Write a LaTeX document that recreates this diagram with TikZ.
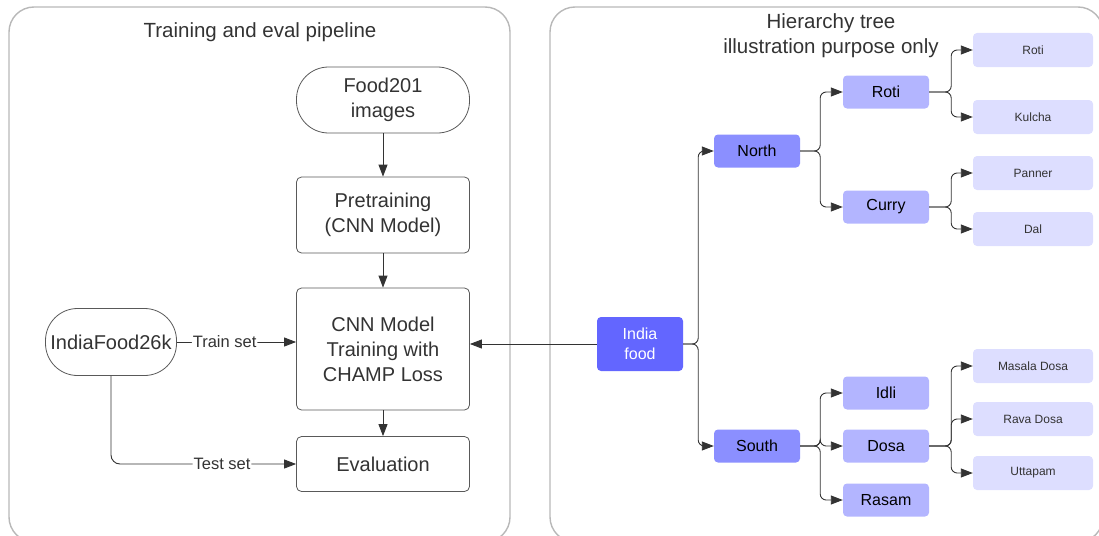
\documentclass[tikz,border=0pt]{standalone}
\usepackage{fontspec}
\setmainfont{Liberation Sans}
\usetikzlibrary{arrows.meta}

\definecolor{rootfill}{RGB}{99,102,255}
\definecolor{regionfill}{RGB}{139,143,255}
\definecolor{dishfill}{RGB}{179,181,255}
\definecolor{variantfill}{RGB}{221,222,255}
\definecolor{inkgray}{RGB}{51,51,51}

\tikzset{
  panel/.style={draw=black!28, line width=1.4pt, rounded corners=25pt},
  title/.style={text=inkgray, align=center, font=\fontsize{20.5}{25}\selectfont},
  stepbox/.style={draw=black!65, line width=0.8pt, rounded corners=5pt, fill=white,
    text=inkgray, align=center, inner sep=2pt, minimum width=173pt,
    font=\fontsize{20}{25}\selectfont},
  databox/.style={stepbox, rounded corners=32pt},
  treebox/.style={rounded corners=4pt, inner sep=0pt, align=center,
    minimum width=86pt, minimum height=33pt, font=\fontsize{16}{20}\selectfont},
  rootbox/.style={treebox, fill=rootfill, text=white, minimum height=54pt},
  regionbox/.style={treebox, fill=regionfill},
  dishbox/.style={treebox, fill=dishfill},
  variantbox/.style={treebox, fill=variantfill, text=inkgray, minimum width=120pt,
    minimum height=34pt, font=\fontsize{12}{14}\selectfont},
  conn/.style={draw=inkgray, line width=0.9pt, rounded corners=6pt,
    -{Triangle[length=12pt,width=9pt]}},
  lbl/.style={fill=white, inner sep=1pt, text=inkgray, font=\fontsize{16.5}{19}\selectfont}
}

\begin{document}
\begin{tikzpicture}[x=1pt,y=-1pt]
  \useasboundingbox (0,0) rectangle (1099,535);

  % two panels, both running off the bottom edge
  \draw[panel] (9,7) rectangle (510,542);
  \draw[panel] (550,7) rectangle (1103,542);
  \node[title] (pipetitle) at (260,32) {Training and eval pipeline};
  \node[title] (treetitle) at (831,36) {Hierarchy tree\\illustration purpose only};

  % pipeline
  \node[databox, minimum height=66pt] (food) at (383,100) {Food201\\images};
  \node[stepbox, minimum height=76pt] (pretrain) at (383,215) {Pretraining\\(CNN Model)};
  \node[stepbox, minimum height=122pt] (train) at (383,349) {CNN Model\\Training with\\CHAMP Loss};
  \node[stepbox, minimum height=55pt] (evaluation) at (383,464) {Evaluation};
  \node[databox, minimum width=131pt, minimum height=67pt] (dataset) at (111,342) {IndiaFood26k};

  \draw[conn] (food) -- (pretrain);
  \draw[conn] (pretrain) -- (train);
  \draw[conn] (train) -- (evaluation);
  \draw[conn] (dataset.east) -- node[lbl, pos=0.4] {Train set} (dataset.east -| train.west);
  \draw[conn, rounded corners=9pt] (dataset.south) |- node[lbl, pos=0.8] {Test set} (evaluation.west);

  % hierarchy tree
  \node[rootbox] (india) at (640,344) {India\\food};
  \node[regionbox] (north) at (757,151) {North};
  \node[regionbox] (south) at (757,446) {South};
  \node[dishbox] (roti) at (886,92) {Roti};
  \node[dishbox] (curry) at (886,207) {Curry};
  \node[dishbox] (idli) at (886,393) {Idli};
  \node[dishbox] (dosa) at (886,446) {Dosa};
  \node[dishbox] (rasam) at (886,500) {Rasam};
  \node[variantbox] (rotileaf) at (1033,50) {Roti};
  \node[variantbox] (kulcha) at (1033,117) {Kulcha};
  \node[variantbox] (panner) at (1033,173) {Panner};
  \node[variantbox] (dal) at (1033,229) {Dal};
  \node[variantbox] (masala) at (1033,366) {Masala Dosa};
  \node[variantbox] (rava) at (1033,419) {Rava Dosa};
  \node[variantbox] (uttapam) at (1033,473) {Uttapam};

  \draw[conn] (india.west) -- (india.west -| train.east);
  \foreach \from/\to/\stub in {india/north/15, india/south/15,
      north/roti/20, north/curry/20, south/idli/20, south/dosa/20, south/rasam/20,
      roti/rotileaf/22, roti/kulcha/22, curry/panner/22, curry/dal/22,
      dosa/masala/22, dosa/rava/22, dosa/uttapam/22}
    \draw[conn] (\from.east) -- ++(\stub,0) |- (\to);
\end{tikzpicture}
\end{document}
